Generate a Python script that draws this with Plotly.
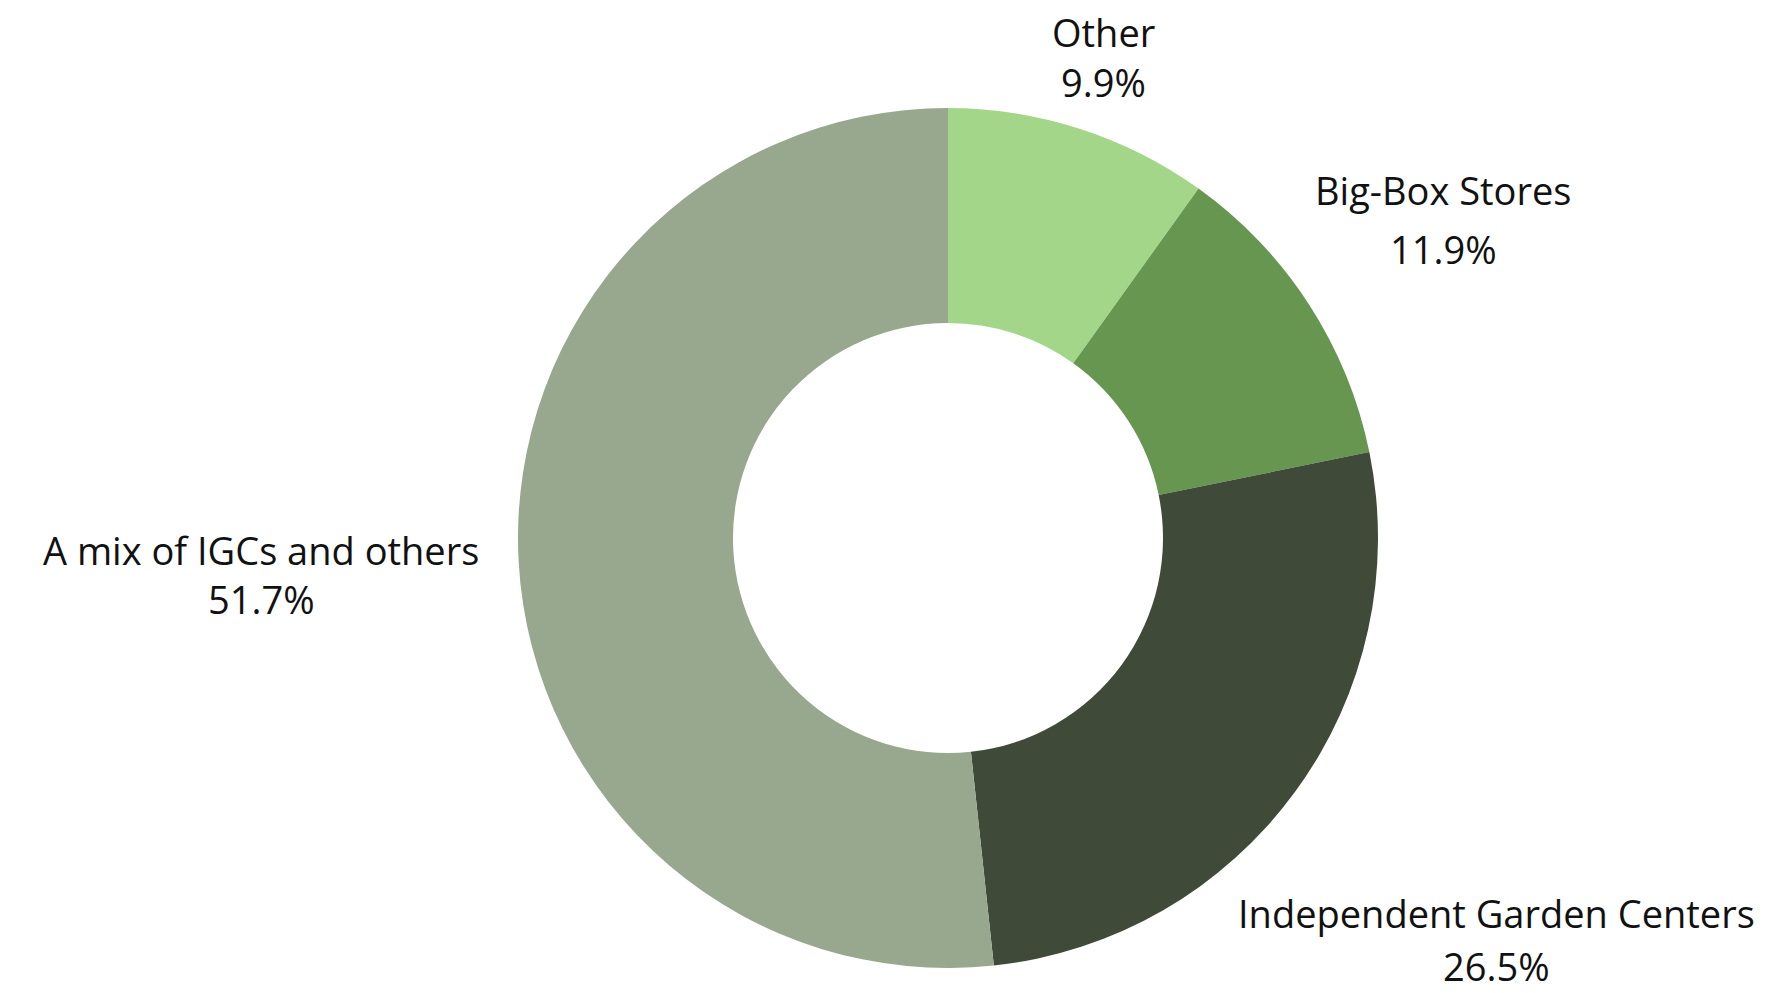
import plotly.graph_objects as go

# Share of respondents by where they buy plants
categories = ["Other", "Big-Box Stores", "Independent Garden Centers", "A mix of IGCs and others"]
shares = [9.9, 11.9, 26.5, 51.7]
colors = ["#a3d688", "#66964f", "#3f4b38", "#97a88e"]

W, H = 1786, 993

fig = go.Figure(
    go.Pie(
        labels=categories,
        values=shares,
        hole=0.5,
        sort=False,
        direction="clockwise",
        rotation=0,
        textinfo="none",
        marker=dict(colors=colors, line=dict(width=0)),
        domain=dict(x=[518 / W, 1378 / W], y=[(H - 968) / H, (H - 108) / H]),
        showlegend=False,
    )
)

# Outside labels: category name above, share below
label_pos = {
    "Other": (1103, 32, 82),
    "Big-Box Stores": (1443, 190, 249),
    "Independent Garden Centers": (1496, 913, 966),
    "A mix of IGCs and others": (261, 550, 599),
}
font = dict(family="Open Sans", size=38, color="#111111")
for name, val in zip(categories, shares):
    x, y_name, y_val = label_pos[name]
    for text, y in ((name, y_name), (f"{val:.1f}%", y_val)):
        fig.add_annotation(
            x=x / W, y=1 - y / H, xref="paper", yref="paper",
            text=text, showarrow=False, font=font,
            xanchor="center", yanchor="middle",
        )

fig.update_layout(
    width=W, height=H,
    margin=dict(l=0, r=0, t=0, b=0),
    paper_bgcolor="white",
    plot_bgcolor="white",
)

fig.write_html("out.html")
